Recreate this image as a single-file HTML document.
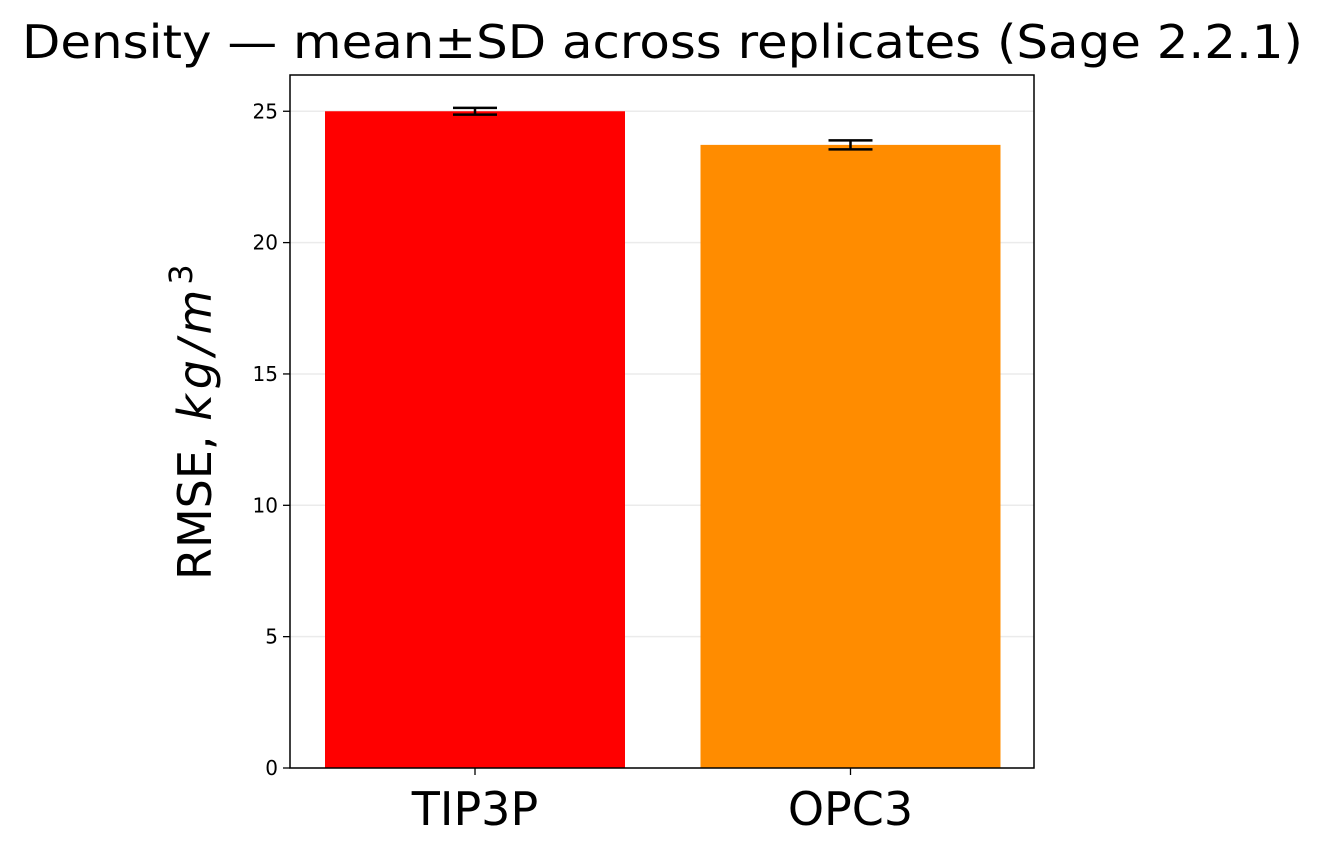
<!DOCTYPE html>
<html><head><meta charset="utf-8"><style>
body{margin:0;background:#fff;}
svg text{font-family:"DejaVu Sans","Liberation Sans",sans-serif;}
</style></head><body>
<svg width="1325" height="855">
<g id="plot"></g>
</svg>
<script>
const categories=["TIP3P","OPC3"];
const means=[25.0,23.72];
const sds=[0.13,0.17];
const colors=["#ff0000","#ff8c00"];
const yTicks=[0,5,10,15,20,25];
const L=290,R=1034,T=75,B=768,yMax=26.38;
const y=v=>B-(v/yMax)*(B-T);
const xc=i=>475+i*375.5;
const bw=300;
const ns="http://www.w3.org/2000/svg";
const g=document.getElementById('plot');
function mk(t,a,txt){const e=document.createElementNS(ns,t);for(const k in a)e.setAttribute(k,a[k]);if(txt!==undefined)e.textContent=txt;g.appendChild(e);return e;}
yTicks.forEach(t=>{
 const gl=mk('line',{x1:L,x2:R,y1:y(t),y2:y(t),stroke:'#ebebeb','stroke-width':1.5});
 
 
 const tk=mk('line',{x1:L-7,x2:L,y1:y(t),y2:y(t),stroke:'#000','stroke-width':1.3});
 
 
 const tl=mk('text',{x:L-12,y:y(t)+7,'text-anchor':'end','font-size':20},t);
 
 
});
categories.forEach((c,i)=>{
 const b=mk('rect',{x:xc(i)-bw/2,y:y(means[i]),width:bw,height:B-y(means[i]),fill:colors[i]});
 
 
 const lo=y(means[i]-sds[i]),hi=y(means[i]+sds[i]);
 const e1=mk('line',{x1:xc(i),x2:xc(i),y1:lo,y2:hi,stroke:'#000','stroke-width':2.5});
 
 
 [lo,hi].forEach(yy=>{const cp=mk('line',{x1:xc(i)-22,x2:xc(i)+22,y1:yy,y2:yy,stroke:'#000','stroke-width':2.5});
 
 });
 const tk=mk('line',{x1:xc(i),x2:xc(i),y1:B,y2:B+7,stroke:'#000','stroke-width':1.3});
 
 
 const tl=mk('text',{x:xc(i),y:825,'text-anchor':'middle','font-size':46},c);
 
 
});
const fr=mk('rect',{x:L,y:T,width:R-L,height:B-T,fill:'none',stroke:'#000','stroke-width':1.5});


</script>
<svg width="1325" height="855" style="position:absolute;left:0;top:0">
<text x="22" y="58" font-size="46" textLength="1281" lengthAdjust="spacingAndGlyphs">Density — mean±SD across replicates (Sage 2.2.1)</text>
<text transform="translate(211,580) rotate(-90)" text-anchor="start" font-size="46">RMSE, <tspan font-style="italic" letter-spacing="5">kg/m</tspan><tspan font-size="32" dy="-19">3</tspan></text>
</svg>
</body></html>
